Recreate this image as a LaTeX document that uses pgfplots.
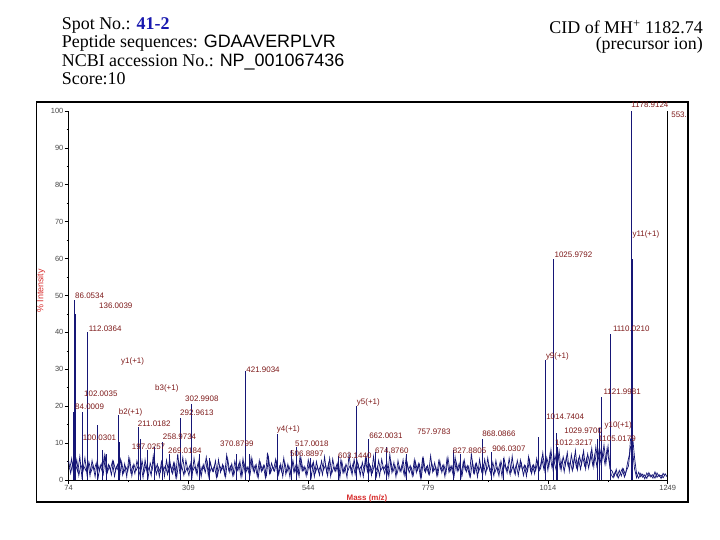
\documentclass[border=0pt]{standalone}
\usepackage{pgfplots}
\pgfplotsset{compat=1.18}
\usepackage{pgfplotstable}
\usepackage{fontspec}
\setmainfont{Liberation Serif}
\newfontfamily\arial{Liberation Sans}
\definecolor{spec}{RGB}{22,22,118}
\definecolor{lblred}{RGB}{125,25,25}
\definecolor{axred}{RGB}{215,45,45}
\definecolor{spotblue}{RGB}{25,25,175}
\definecolor{tickgray}{RGB}{70,70,70}

\pgfplotstableread{
mz inten
74 5.2
78 1.8
82 4.6
86 2.1
90 5.5
94 1.2
98 4.1
102 2.6
106 6.0
110 1.5
114 4.8
118 2.2
122 3.9
126 0.9
130 5.1
134 2.4
138 4.4
142 1.6
146 6.3
150 2.0
154 3.8
158 1.4
162 5.0
166 2.7
170 4.2
174 0.8
178 4.9
182 1.9
186 3.6
190 2.3
194 5.7
198 1.1
202 4.3
206 2.5
210 3.7
214 1.3
218 5.3
222 2.0
226 4.0
230 0.7
234 4.6
238 2.8
242 5.9
246 1.5
250 3.5
254 2.1
258 4.7
262 1.0
266 5.4
270 2.2
274 3.9
278 1.7
282 4.5
286 0.6
290 5.0
294 2.4
298 6.1
302 1.8
306 3.3
310 1.2
314 4.8
318 2.6
322 3.6
326 1.4
330 5.6
334 0.9
338 4.2
342 2.0
346 4.9
350 1.6
354 3.4
358 2.3
362 5.2
366 1.1
370 4.0
374 2.7
378 3.8
382 0.8
386 5.8
390 2.1
394 4.4
398 1.3
402 3.7
406 2.5
410 5.1
414 1.0
418 4.6
422 2.2
426 3.5
430 1.5
434 5.5
438 2.0
442 4.1
446 0.7
450 4.7
454 2.6
458 3.9
462 1.2
466 6.2
470 1.9
474 3.6
478 2.4
482 5.0
486 1.4
490 4.3
494 0.9
498 4.8
502 2.1
506 3.8
510 1.7
514 5.3
518 2.2
522 4.0
526 1.0
530 5.7
534 2.5
538 3.4
542 1.6
546 4.5
550 0.8
554 4.9
558 2.0
562 3.7
566 1.3
570 5.2
574 2.7
578 4.1
582 1.1
586 5.9
590 1.8
594 3.5
598 2.3
602 4.6
606 0.6
610 5.0
614 1.9
618 4.3
622 2.6
626 3.9
630 1.4
634 5.6
638 2.1
642 4.2
646 1.2
650 4.8
654 2.4
658 6.0
662 1.5
666 3.7
670 2.0
674 4.4
678 1.0
682 5.3
686 2.5
690 3.6
694 1.7
698 4.9
702 0.9
706 5.1
710 2.2
714 4.0
718 1.6
722 3.8
726 2.3
730 5.5
734 1.1
738 4.6
742 2.0
746 3.4
750 1.3
754 5.0
758 2.6
762 4.3
766 0.8
770 5.8
774 2.1
778 3.9
782 1.5
786 4.7
790 2.4
794 3.6
798 1.2
802 5.2
806 2.0
810 4.1
814 1.7
818 6.1
822 2.3
826 3.8
830 1.0
834 4.9
838 2.5
842 4.0
846 1.4
850 5.4
854 2.2
858 3.7
862 0.9
866 5.0
870 1.8
874 4.5
878 2.1
882 3.9
886 1.3
890 5.6
894 2.6
898 4.2
902 1.6
906 4.8
910 2.0
914 3.5
918 1.1
922 5.1
926 2.4
930 4.4
934 1.9
938 5.9
942 2.2
946 4.0
950 1.5
954 5.3
958 2.7
962 4.6
966 1.2
970 3.8
974 2.3
978 5.5
982 1.7
986 4.1
990 2.5
994 5.0
998 2.8
1002 5.8
1006 3.0
1010 6.5
1014 2.6
1018 7.0
1022 3.4
1026 5.2
1030 2.8
1034 6.8
1038 3.1
1042 5.5
1046 2.2
1050 6.1
1054 3.6
1058 4.9
1062 2.5
1066 6.4
1070 3.3
1074 5.7
1078 2.9
1082 6.6
1086 3.8
1090 5.9
1094 3.2
1098 7.2
1102 4.0
1106 6.9
1110 3.7
1114 8.0
1118 4.5
1122 7.6
1126 4.2
1130 8.5
1134 5.0
1138 1.5
1142 0.6
1146 2.2
1150 0.9
1154 2.6
1158 1.1
1162 3.0
1166 1.4
1170 4.5
1174 7.0
1176 11.0
1180 12.0
1184 6.0
1188 1.6
1192 0.5
1196 1.8
1200 0.7
1204 1.4
1208 0.4
1212 2.0
1216 0.8
1220 1.5
1224 0.5
1228 1.9
1232 0.9
1236 1.3
1240 0.6
1244 1.7
1248 0.8
}\noisetable

\pgfplotstableread{
mz inten
76 2.9
80 5.8
84 1.3
88 4.0
92 2.2
96 6.4
100 0.9
104 3.7
108 2.5
112 4.9
116 1.1
120 5.3
124 2.6
128 4.5
132 0.7
136 3.9
140 2.3
144 6.7
148 1.6
152 4.2
156 2.8
160 5.1
164 1.0
168 3.6
172 2.4
176 5.6
180 1.4
184 4.4
188 0.8
192 6.0
196 2.1
200 3.8
204 1.7
208 5.2
212 2.9
216 4.1
220 0.6
224 5.5
228 2.0
232 3.5
236 1.2
240 6.6
244 2.5
248 4.3
252 0.9
256 5.0
260 2.7
264 3.9
268 1.5
272 5.7
276 2.3
280 4.6
284 1.0
288 7.1
292 2.0
296 3.7
300 1.3
304 5.4
308 2.6
312 4.0
316 0.8
320 5.9
324 2.2
328 4.7
332 1.6
336 3.6
340 2.9
344 6.2
348 1.1
352 4.8
356 2.4
360 3.9
364 0.7
368 5.5
372 2.1
376 4.2
380 1.4
384 6.8
388 2.6
392 3.8
396 1.2
400 5.1
404 2.8
408 4.4
412 0.9
416 5.8
420 2.0
424 3.6
428 1.7
432 6.1
436 2.5
440 4.0
444 1.0
448 5.3
452 2.3
456 3.9
460 0.6
464 7.4
468 1.8
472 4.6
476 2.7
480 5.6
484 1.3
488 3.8
492 2.2
496 6.0
500 1.5
504 4.3
508 0.8
512 5.2
516 2.0
520 4.1
524 1.6
528 6.5
532 2.4
536 3.7
540 1.1
544 5.5
548 2.8
552 4.4
556 0.9
560 5.0
564 2.3
568 3.9
572 1.4
576 6.3
580 2.1
584 4.6
588 1.0
592 5.7
596 2.6
600 4.2
604 1.2
608 5.4
612 2.0
616 3.6
620 0.7
624 6.9
628 2.5
632 4.5
636 1.5
640 5.1
644 2.7
648 3.8
652 0.9
656 5.9
660 2.2
664 4.3
668 1.3
672 6.4
676 2.4
680 3.7
684 1.0
688 5.6
692 2.9
696 4.0
700 1.6
704 7.0
708 2.1
712 4.8
716 0.8
720 5.3
724 2.3
728 4.1
732 1.4
736 6.1
740 2.6
744 3.9
748 1.1
752 5.5
756 2.0
760 4.4
764 0.7
768 5.8
772 2.5
776 3.6
780 1.7
784 6.6
788 2.2
792 4.7
796 1.3
800 5.2
804 2.8
808 4.0
812 0.9
816 5.7
820 2.1
824 3.8
828 1.5
832 6.2
836 2.4
840 4.5
844 1.0
848 5.0
852 2.7
856 3.9
860 1.2
864 7.2
868 2.0
872 4.3
876 0.8
880 5.6
884 2.3
888 4.1
892 1.6
896 6.0
900 2.5
904 3.7
908 1.1
912 5.3
916 2.2
920 4.6
924 0.9
928 5.9
932 2.8
936 3.8
940 1.4
944 6.5
948 2.0
952 4.2
956 1.2
960 5.4
964 2.6
968 4.0
972 1.0
976 6.3
980 2.4
984 3.9
988 1.7
992 5.8
996 2.3
1000 3.2
1004 7.4
1008 2.5
1012 6.0
1016 3.6
1020 8.2
1024 2.9
1028 6.7
1032 3.4
1036 7.8
1040 2.7
1044 6.3
1048 3.9
1052 7.5
1056 2.4
1060 6.9
1064 3.5
1068 8.0
1072 2.8
1076 6.5
1080 4.1
1084 7.9
1088 3.0
1092 7.1
1096 4.4
1100 8.6
1104 3.6
1108 9.0
1112 4.8
1116 8.3
1120 5.2
1124 9.5
1128 4.6
1132 9.2
1136 3.0
1140 2.4
1144 1.0
1148 2.9
1152 0.5
1156 1.8
1160 3.1
1164 0.8
1168 2.5
1172 3.8
1176 9.0
1180 8.0
1184 3.0
1188 0.6
1192 2.1
1196 0.9
1200 1.6
1204 0.3
1208 1.9
1212 1.0
1216 1.4
1220 0.5
1224 2.2
1228 0.7
1232 1.5
1236 0.4
1240 1.8
1244 1.0
}\noisetableb

\pgfplotstableread{
mz inten
84.0 18.5
86.0 48.8
86.6 45.0
87.1 34.0
100.3 18.5
110.1 40.0
129.7 15.0
140.9 8.0
149.3 7.0
171.5 17.5
174.8 10.4
211.5 14.4
214.6 11.0
229.2 8.0
242.1 9.0
258.6 10.4
271.5 7.0
293.1 16.8
314.7 20.6
330.4 7.0
350.0 6.0
402.4 7.0
420.6 29.5
428.5 7.0
483.4 12.6
511.6 8.0
520.1 9.0
547.5 6.0
603.0 6.5
639.1 20.0
661.9 11.0
675.0 7.5
698.0 9.0
737.2 7.0
828.6 8.0
841.8 7.0
885.5 11.0
904.0 7.5
926.7 6.0
995.3 11.7
1009.9 32.5
1024.8 60.0
1030.5 12.7
1033.0 9.0
1112.0 11.0
1114.6 14.0
1119.0 22.6
1136.6 39.6
1137.3 39.0
1177.0 56.0
1177.8 100.0
1178.6 100.0
1179.4 60.0
}\peaktable

\begin{document}
\begin{tikzpicture}[x=1bp,y=1bp,
  lbl/.style={anchor=west, inner sep=0, font=\arial\fontsize{8}{9}\selectfont, text=lblred}]
\path[use as bounding box] (0,0) rectangle (720,540);
% header
\node[anchor=base west, inner sep=0] at (61.7,510.8) {\fontsize{18}{20}\selectfont Spot No.: \textcolor{spotblue}{\bfseries 41-2}};
\node[anchor=base west, inner sep=0] at (61.7,492.1) {\fontsize{18}{20}\selectfont Peptide sequences: {\arial GDAAVERPLVR}};
\node[anchor=base west, inner sep=0] at (61.7,473.4) {\fontsize{18}{20}\selectfont NCBI accession No.: {\arial NP\_001067436}};
\node[anchor=base west, inner sep=0] at (61.7,455.0) {\fontsize{18}{20}\selectfont Score:10};
\node[anchor=base east, inner sep=0] at (703,506.5) {\fontsize{18}{20}\selectfont CID of MH\textsuperscript{+} 1182.74};
\node[anchor=base east, inner sep=0] at (703,490) {\fontsize{18}{20}\selectfont (precursor ion)};
% frame
\draw[line width=1.2bp] (36.7,38) rectangle (688,438);
\node[rotate=90, text=axred, font=\arial\fontsize{9}{10}\selectfont] at (41,249) {\% Intensity};
\node[text=axred, font=\arial\bfseries\fontsize{8}{9}\selectfont, inner sep=0] at (367,42) {Mass (m/z)};
\begin{axis}[
  at={(68.6bp,60bp)}, anchor=south west,
  scale only axis, width=599.1bp, height=369bp,
  xmin=74, xmax=1249, ymin=0, ymax=100,
  axis x line*=bottom, axis y line*=left,
  axis line style={black, line width=0.8bp, -},
  xtick={74,309,544,779,1014,1249},
  ytick={0,10,20,30,40,50,60,70,80,90,100},
  minor x tick num=1, minor y tick num=1,
  tick align=outside, major tick length=4bp, minor tick length=2bp,
  tick style={black, line width=0.6bp},
  /pgf/number format/assume math mode=true,
  /pgf/number format/1000 sep={},
  ticklabel style={font=\arial\fontsize{7.5}{8}\selectfont, text=tickgray},
  yticklabel style={inner sep=1bp},
  xticklabel style={inner sep=1.5bp},
  clip=false,
]
\addplot[spec, line width=0.7bp, sharp plot] table[x=mz, y=inten] {\noisetable};
\addplot[spec, line width=0.7bp, sharp plot] table[x=mz, y=inten] {\noisetableb};
\addplot[spec, line width=1bp, ycomb] table[x=mz, y=inten] {\peaktable};
\draw[black, line width=0.9bp] (axis cs:1249,0) -- (axis cs:1249,100);
\node[lbl] at (axis cs:86.6,49.9) {86.0534};
\node[lbl] at (axis cs:133.6,47.2) {136.0039};
\node[lbl] at (axis cs:113.4,40.9) {112.0364};
\node[lbl] at (axis cs:176.8,32.0) {y1(+1)};
\node[lbl] at (axis cs:104.2,23.3) {102.0035};
\node[lbl] at (axis cs:86.6,19.8) {84.0009};
\node[lbl] at (axis cs:101.7,11.5) {100.0301};
\node[lbl] at (axis cs:172.3,18.2) {b2(+1)};
\node[lbl] at (axis cs:243.5,24.9) {b3(+1)};
\node[lbl] at (axis cs:302.3,22.0) {302.9908};
\node[lbl] at (axis cs:292.5,18.2) {292.9613};
\node[lbl] at (axis cs:209.5,15.2) {211.0182};
\node[lbl] at (axis cs:258.6,11.7) {258.9734};
\node[lbl] at (axis cs:197.8,9.0) {197.0257};
\node[lbl] at (axis cs:269.0,7.9) {269.0184};
\node[lbl] at (axis cs:371.0,9.8) {370.8799};
\node[lbl] at (axis cs:422.4,29.8) {421.9034};
\node[lbl] at (axis cs:482.2,13.7) {y4(+1)};
\node[lbl] at (axis cs:518.1,9.8) {517.0018};
\node[lbl] at (axis cs:508.3,7.0) {506.8897};
\node[lbl] at (axis cs:602.4,6.6) {603.1440};
\node[lbl] at (axis cs:639.1,21.1) {y5(+1)};
\node[lbl] at (axis cs:663.3,12.1) {662.0031};
\node[lbl] at (axis cs:675.0,8.0) {674.8760};
\node[lbl] at (axis cs:757.4,13.0) {757.9783};
\node[lbl] at (axis cs:827.4,7.9) {827.8805};
\node[lbl] at (axis cs:884.9,12.4) {868.0866};
\node[lbl] at (axis cs:904.5,8.5) {906.0307};
\node[lbl] at (axis cs:1009.9,33.4) {y9(+1)};
\node[lbl] at (axis cs:1026.7,61.0) {1025.9792};
\node[lbl] at (axis cs:1010.5,17.2) {1014.7404};
\node[lbl] at (axis cs:1045.9,13.3) {1029.9700};
\node[lbl] at (axis cs:1028.0,10.1) {1012.3217};
\node[lbl] at (axis cs:1124.8,14.9) {y10(+1)};
\node[lbl] at (axis cs:1113.1,11.3) {1105.0179};
\node[lbl] at (axis cs:1122.9,23.9) {1121.9981};
\node[lbl] at (axis cs:1141.3,40.9) {1110.0210};
\node[lbl] at (axis cs:1179.7,66.6) {y11(+1)};
\node[lbl] at (axis cs:1177.2,101.6) {1178.9124};
\node[lbl] at (axis cs:1255.7,99.1) {553.};
\end{axis}
\end{tikzpicture}
\end{document}
